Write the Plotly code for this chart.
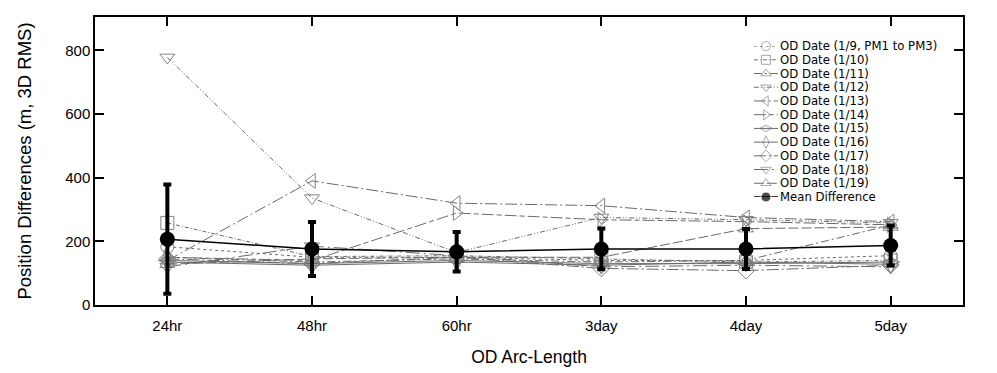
import plotly.graph_objects as go

# ---------------- data ----------------
categories = ["24hr", "48hr", "60hr", "3day", "4day", "5day"]

series_names = [
    "OD Date (1/9, PM1 to PM3)", "OD Date (1/10)", "OD Date (1/11)", "OD Date (1/12)",
    "OD Date (1/13)", "OD Date (1/14)", "OD Date (1/15)", "OD Date (1/16)",
    "OD Date (1/17)", "OD Date (1/18)", "OD Date (1/19)",
]
od_1_9 = [183, 150, 150, 140, 140, 155]
od_1_10 = [258, 152, 155, 145, 135, 140]
od_1_11 = [150, 135, 145, 135, 140, 251]
od_1_12 = [778, 336, 165, 275, 268, 258]
od_1_13 = [140, 390, 320, 312, 275, 262]
od_1_14 = [150, 140, 289, 268, 262, 252]
od_1_15 = [140, 130, 140, 130, 130, 135]
od_1_16 = [135, 125, 135, 125, 135, 128]
od_1_17 = [145, 130, 150, 115, 108, 125]
od_1_18 = [120, 185, 155, 120, 125, 120]
od_1_19 = [128, 145, 150, 150, 240, 245]
series_values = [od_1_9, od_1_10, od_1_11, od_1_12, od_1_13, od_1_14,
                 od_1_15, od_1_16, od_1_17, od_1_18, od_1_19]

mean_name = "Mean Difference"
mean_values = [207, 176, 167, 176, 176, 187]
mean_error = [172, 85, 62, 64, 63, 63]

y_ticks = [0, 200, 400, 600, 800]

# ---------------- styles ----------------
dashes = ["dot", "4px,2px,1px,2px", "8px,3px,2px,3px", "5px,2px,1px,2px,1px,2px",
          "12px,3px,2px,3px", "12px,3px,5px,3px", "solid", "solid",
          "12px,3px,2px,3px", "14px,4px,2px,4px", "10px,3px"]
symbols = ["circle-open", "square-open", "triangle-up-open", "triangle-down-open",
           "triangle-left-open", "triangle-right-open", "diamond-wide-open",
           "diamond-tall-open", "diamond-open", "triangle-down-open", "triangle-up-open"]
gray_line = "#6a6a6a"
gray_mark = "#858585"
FONT = "Liberation Sans, Arial, Helvetica, sans-serif"
LEG_FONT = "DejaVu Sans, Liberation Sans, sans-serif"

fig = go.Figure()
for name, vals, dsh, sym in zip(series_names, series_values, dashes, symbols):
    fig.add_trace(go.Scatter(
        x=categories, y=vals, name=name, mode="lines+markers",
        line=dict(color=gray_line, width=1, dash=dsh),
        marker=dict(symbol=sym, size=13, color=gray_mark, line=dict(width=1, color=gray_mark)),
        showlegend=False, cliponaxis=False))

fig.add_trace(go.Scatter(
    x=categories, y=mean_values, name=mean_name, mode="lines+markers",
    line=dict(color="black", width=1.5),
    marker=dict(symbol="circle", size=15, color="black"),
    error_y=dict(type="data", array=mean_error, visible=True, color="black",
                 thickness=4, width=4),
    showlegend=False, cliponaxis=False))

# ---------------- custom compact legend ----------------
legend_names = series_names + [mean_name]
n_leg = len(legend_names)
sample_x = [0, 0.5, 1]
for i, name in enumerate(legend_names):
    yv = n_leg - 1 - i
    if i < len(series_names):
        line = dict(color=gray_line, width=1, dash=dashes[i])
        marker = dict(symbol=symbols[i], size=[0, 9, 0], color=gray_mark,
                      line=dict(width=1, color=gray_mark))
    else:
        line = dict(color="black", width=1.5)
        marker = dict(symbol="circle", size=[0, 10, 0], color="black")
    fig.add_trace(go.Scatter(x=sample_x, y=[yv] * 3, xaxis="x2", yaxis="y2",
                             mode="lines+markers", line=line, marker=marker,
                             showlegend=False, hoverinfo="skip", cliponaxis=False))
    fig.add_annotation(x=0.789, xref="paper", y=yv, yref="y2", text=name,
                       showarrow=False, xanchor="left", yanchor="middle",
                       borderpad=0, borderwidth=0,
                       font=dict(family=LEG_FONT, size=11.7, color="black"))

axis_common = dict(showline=True, linecolor="black", linewidth=1.5, mirror="ticks",
                   ticks="inside", ticklen=9, tickwidth=1.5, tickcolor="black",
                   showgrid=False, zeroline=False, automargin=False,
                   tickfont=dict(family=FONT, size=15, color="black"))

# the page adds an 8px body margin, so the figure is 8px smaller on each leading edge
fig.update_layout(
    width=989, height=365,
    margin=dict(l=87, r=34, t=9, b=68),
    paper_bgcolor="white", plot_bgcolor="white",
    font=dict(family=FONT, color="black"),
    xaxis=dict(**axis_common, range=[-0.5, 5.5], ticklabelstandoff=6,
               title=dict(text="OD Arc-Length", font=dict(family=FONT, size=17.5), standoff=18)),
    yaxis=dict(**axis_common, range=[0, 905], tickvals=y_ticks, ticklabelstandoff=0,
               title=dict(text="Position Differences (m, 3D RMS)",
                          font=dict(family=FONT, size=18.5), standoff=29)),
    xaxis2=dict(domain=[0.759, 0.787], range=[0, 1], anchor="y2", visible=False,
                fixedrange=True),
    yaxis2=dict(domain=[0.375, 0.899], range=[0, n_leg - 1], anchor="x2",
                visible=False, fixedrange=True),
    showlegend=False,
)

fig.write_html("out.html")
